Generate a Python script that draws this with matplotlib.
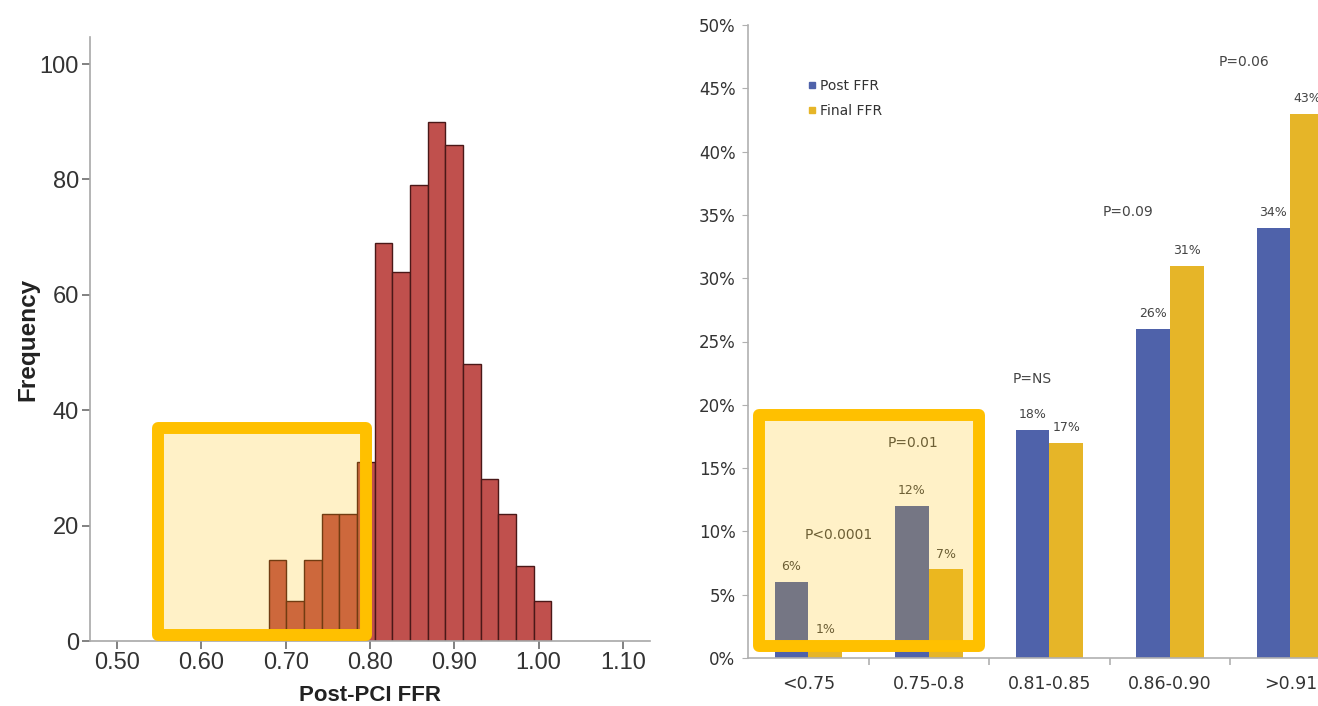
import matplotlib.pyplot as plt
import numpy as np
from matplotlib.patches import Rectangle
from matplotlib.lines import Line2D

# left: histogram of post-PCI FFR
bin_start = 0.68
bin_stop = 1.015
freq = [14, 7, 14, 22, 22, 31, 69, 64, 79, 90, 86, 48, 28, 22, 13, 7]
hist_ticks = [0.50, 0.60, 0.70, 0.80, 0.90, 1.00, 1.10]

# right: grouped bars
cats = ['<0.75', '0.75-0.8', '0.81-0.85', '0.86-0.90', '>0.91']
post_ffr = [6, 12, 18, 26, 34]
final_ffr = [1, 7, 17, 31, 43]
pvals = ['P<0.0001', 'P=0.01', 'P=NS', 'P=0.09', 'P=0.06']
pval_x = [0.25, 0.87, 1.86, 2.65, 3.62]
pval_y = [9.7, 17.0, 22.0, 35.2, 47.1]

red = '#C0504D'
gold = '#FFC000'
blue = '#4F62AA'
yel = '#E6B528'
txt = '#333333'

fig = plt.figure(figsize=(13.18, 7.06), dpi=100)

# ---------------- left panel ----------------
ax1 = fig.add_axes([90/1318, 1-641/706, 560/1318, (641-37)/706])
edges = np.linspace(bin_start, bin_stop, len(freq)+1)
ax1.bar(edges[:-1], freq, width=np.diff(edges), align='edge', color=red,
        edgecolor='#4a1818', linewidth=1.0, zorder=2)
ax1.set_xlim(0.468, 1.132)
ax1.set_ylim(0, 104.7)
ax1.set_xticks(hist_ticks)
ax1.set_xticklabels(['%.2f' % v for v in hist_ticks])
ax1.set_yticks([0, 20, 40, 60, 80, 100])
for s in ['top', 'right']:
    ax1.spines[s].set_visible(False)
for s in ['left', 'bottom']:
    ax1.spines[s].set_color('#a8a8a8')
    ax1.spines[s].set_linewidth(1.2)
ax1.tick_params(colors='#777777', labelcolor=txt, labelsize=17, length=6, width=1.3, pad=2)
for lab in ax1.get_xticklabels() + ax1.get_yticklabels():
    lab.set_family('Liberation Sans')
ax1.set_ylabel('Frequency', fontsize=17.5, fontweight='bold', family='Liberation Sans',
               color='#222222', labelpad=0)
ax1.set_xlabel('Post-PCI FFR', fontsize=16, fontweight='bold', family='Liberation Sans',
               color='#222222', labelpad=8)

bx = (0.5486, 1.04)
bw = 0.7948 - 0.5486
bh = 36.9 - 1.04
ax1.add_patch(Rectangle(bx, bw, bh, facecolor=gold, alpha=0.22, edgecolor='none', zorder=3))
ax1.add_patch(Rectangle(bx, bw, bh, facecolor='none', edgecolor=gold, linewidth=8.6,
                        joinstyle='round', zorder=4))

# ---------------- right panel ----------------
ax2 = fig.add_axes([748/1318, 1-658/706, 570/1318, (658-25)/706])
x = np.arange(len(cats))
w = 0.28
b1 = ax2.bar(x - w/2, post_ffr, width=w, color=blue, zorder=2)
b2 = ax2.bar(x + w/2, final_ffr, width=w, color=yel, zorder=2)
for bars, vals in [(b1, post_ffr), (b2, final_ffr)]:
    for r, v in zip(bars, vals):
        ax2.text(r.get_x() + r.get_width()/2, v + 0.7, '%d%%' % v, ha='center', va='bottom',
                 fontsize=9, color='#444444', family='DejaVu Sans', zorder=2)
for px, py, p in zip(pval_x, pval_y, pvals):
    ax2.text(px, py, p, ha='center', va='center', fontsize=10, color='#444444',
             family='DejaVu Sans', zorder=2)

ax2.set_xlim(-0.5, 4.23)
ax2.set_ylim(0, 50)
ax2.set_yticks(np.arange(0, 51, 5))
ax2.set_yticklabels(['%d%%' % v for v in range(0, 51, 5)])
ax2.set_xticks(x)
ax2.set_xticklabels(cats)
ax2.set_xticks(np.arange(0.5, 4.5, 1), minor=True)
for s in ['top', 'right']:
    ax2.spines[s].set_visible(False)
for s in ['left', 'bottom']:
    ax2.spines[s].set_color('#b0b0b0')
    ax2.spines[s].set_linewidth(1.2)
ax2.tick_params(axis='y', colors='#b0b0b0', labelcolor=txt, labelsize=12, length=4, pad=5)
ax2.tick_params(axis='x', which='major', length=0, labelcolor=txt, labelsize=12.5, pad=12)
ax2.tick_params(axis='x', which='minor', length=5, color='#b0b0b0', width=1.2)
for lab in ax2.get_xticklabels() + ax2.get_yticklabels():
    lab.set_family('DejaVu Sans')

handles = [Line2D([], [], marker='s', linestyle='none', markersize=5, color=blue),
           Line2D([], [], marker='s', linestyle='none', markersize=5, color=yel)]
leg = ax2.legend(handles, ['Post FFR', 'Final FFR'], loc='upper left',
                 bbox_to_anchor=(0.085, 0.935), frameon=False, handlelength=0.5,
                 handletextpad=0.3, labelspacing=0.8, prop={'family': 'DejaVu Sans', 'size': 10})
for t in leg.get_texts():
    t.set_color(txt)

rx = (-0.41, 0.96)
rw = 1.42 + 0.41
rh = 19.2 - 0.96
ax2.add_patch(Rectangle(rx, rw, rh, facecolor=gold, alpha=0.22, edgecolor='none', zorder=3))
ax2.add_patch(Rectangle(rx, rw, rh, facecolor='none', edgecolor=gold, linewidth=8.6,
                        joinstyle='round', zorder=4, clip_on=False))

fig.savefig('out.png', dpi=100)
